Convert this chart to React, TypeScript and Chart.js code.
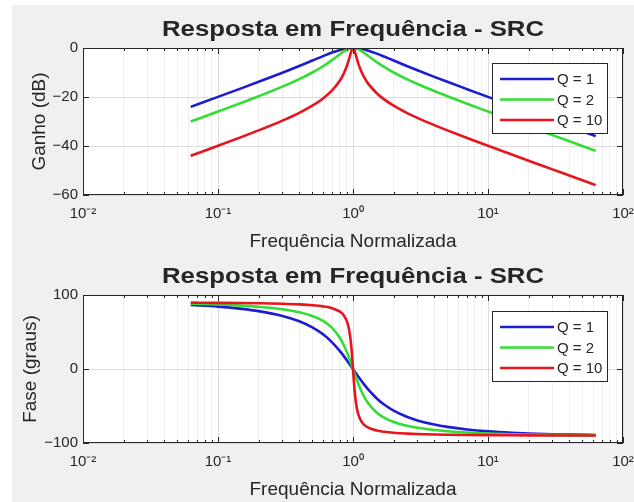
import { useEffect, useRef } from 'react';
import { Chart, registerables } from 'chart.js';

Chart.register(...registerables);

// ---------- data ----------
const freq = [0.0628, 0.1, 0.15, 0.2, 0.3, 0.4, 0.5, 0.6, 0.7, 0.8, 0.85, 0.9, 0.93, 0.95, 0.97, 0.98, 0.99, 1.0, 1.01, 1.02, 1.03, 1.05, 1.07, 1.1, 1.15, 1.2, 1.3, 1.5, 1.7, 2, 2.5, 3, 4, 5, 7, 10, 15, 20, 30, 45, 62.8];

const gainQ1 = [-24.02, -19.96, -16.38, -13.81, -10.09, -7.33, -5.12, -3.3, -1.85, -0.8, -0.44, -0.19, -0.09, -0.05, -0.02, -0.01, 0, 0, 0, -0.01, -0.02, -0.04, -0.08, -0.16, -0.33, -0.55, -1.08, -2.29, -3.49, -5.12, -7.33, -9.09, -11.78, -13.81, -16.81, -19.96, -23.5, -26.01, -29.54, -33.06, -35.96];
const gainQ2 = [-30.03, -25.94, -22.33, -19.69, -15.77, -12.7, -10.0, -7.44, -4.95, -2.58, -1.54, -0.71, -0.35, -0.18, -0.06, -0.03, -0.01, 0, -0.01, -0.03, -0.06, -0.16, -0.31, -0.59, -1.19, -1.87, -3.28, -5.77, -7.74, -10.0, -12.7, -14.69, -17.58, -19.69, -22.77, -25.94, -29.51, -32.02, -35.56, -39.08, -41.98];
const gainQ10 = [-44.01, -39.91, -36.28, -33.63, -29.64, -26.45, -23.54, -20.6, -17.33, -13.27, -10.67, -7.37, -4.93, -3.12, -1.37, -0.66, -0.17, 0, -0.17, -0.63, -1.3, -2.91, -4.52, -6.67, -9.48, -11.6, -14.65, -18.48, -20.96, -23.54, -26.45, -28.53, -31.48, -33.63, -36.72, -39.91, -43.48, -46.0, -49.53, -53.06, -55.96];

const phaseQ1 = [86.39, 84.23, 81.28, 78.23, 71.76, 64.54, 56.31, 46.85, 36.08, 24.23, 18.08, 11.92, 8.27, 5.86, 3.49, 2.31, 1.15, 0, -1.14, -2.27, -3.38, -5.57, -7.71, -10.81, -15.66, -20.14, -27.96, -39.81, -48.03, -56.31, -64.54, -69.44, -75.07, -78.23, -81.7, -84.23, -86.17, -87.13, -88.09, -88.73, -89.09];
const phaseQ2 = [88.19, 87.11, 85.61, 84.05, 80.64, 76.61, 71.57, 64.89, 55.54, 41.99, 33.14, 22.89, 16.2, 11.6, 6.95, 4.62, 2.3, 0, -2.28, -4.53, -6.74, -11.05, -15.15, -20.9, -29.29, -36.25, -46.71, -59.04, -65.78, -71.57, -76.61, -79.38, -82.41, -84.05, -85.83, -87.11, -88.08, -88.56, -89.04, -89.36, -89.54];
const phaseQ10 = [89.64, 89.42, 89.12, 88.81, 88.11, 87.27, 86.19, 84.64, 82.19, 77.47, 72.97, 64.65, 55.46, 45.74, 31.36, 22.0, 11.37, 0, -11.26, -21.61, -30.6, -44.31, -53.55, -62.35, -70.38, -74.74, -79.33, -83.16, -84.86, -86.19, -87.27, -87.85, -88.47, -88.81, -89.16, -89.42, -89.62, -89.71, -89.81, -89.87, -89.91];

const seriesLabels = ['Q = 1', 'Q = 2', 'Q = 10'];
const seriesColors = ['#1c1cd0', '#33dd33', '#e8141e'];

const xMajorTicks = [0.01, 0.1, 1, 10, 100];
const xTickLabels = ['10\u207B\u00B2', '10\u207B\u00B9', '10\u2070', '10\u00B9', '10\u00B2'];
const minorMultipliers = [2, 3, 4, 5, 6, 7, 8, 9];

const gainTicks = [-60, -40, -20, 0];
const phaseTicks = [-100, 0, 100];

const chartTitle = 'Resposta em Frequência - SRC';
const xTitle = 'Frequência Normalizada';
const gainTitle = 'Ganho (dB)';
const phaseTitle = 'Fase (graus)';

// ---------- styling ----------
const FONT = '"Liberation Sans", Arial, Helvetica, sans-serif';
const INK = '#262626';
const FIG_BG = '#f0f0f0';

const allXTicks: number[] = [];
xMajorTicks.forEach((m, i) => {
  allXTicks.push(m);
  if (i < xMajorTicks.length - 1) minorMultipliers.forEach((k) => allXTicks.push(+(m * k).toPrecision(6)));
});

const isMajor = (v: number) => xMajorTicks.some((m) => Math.abs(m - v) / m < 1e-9);

const matlabPlugin = {
  id: 'matlabAxes',
  beforeDraw(chart: any) {
    const { ctx, chartArea: a } = chart;
    ctx.save();
    ctx.fillStyle = '#ffffff';
    ctx.fillRect(a.left, a.top, a.right - a.left, a.bottom - a.top);
    ctx.restore();
  },
  afterDatasetsDraw(chart: any, _args: any, opts: any) {
    const { ctx, chartArea: a, scales } = chart;
    const xs = scales.x;
    const ys = scales.y;
    ctx.save();
    ctx.strokeStyle = INK;
    ctx.lineWidth = 1;
    ctx.beginPath();
    xs.ticks.forEach((t: any) => {
      const px = Math.round(xs.getPixelForValue(t.value)) + 0.5;
      const len = isMajor(t.value) ? 6 : 3;
      ctx.moveTo(px, a.bottom);
      ctx.lineTo(px, a.bottom - len);
      ctx.moveTo(px, a.top);
      ctx.lineTo(px, a.top + len);
    });
    ys.ticks.forEach((t: any) => {
      const py = Math.round(ys.getPixelForValue(t.value)) + 0.5;
      ctx.moveTo(a.left, py);
      ctx.lineTo(a.left + 6, py);
      ctx.moveTo(a.right, py);
      ctx.lineTo(a.right - 6, py);
    });
    ctx.stroke();
    ctx.strokeRect(a.left + 0.5, a.top + 0.5, a.right - a.left - 1, a.bottom - a.top - 1);

    // legend
    const lg = opts.legend;
    const bx = Math.round(a.right - lg.inset - lg.width);
    const by = Math.round(a.top + lg.top);
    ctx.fillStyle = '#ffffff';
    ctx.fillRect(bx, by, lg.width, lg.height);
    ctx.strokeStyle = INK;
    ctx.lineWidth = 1;
    ctx.strokeRect(bx + 0.5, by + 0.5, lg.width, lg.height);
    ctx.font = `15px ${FONT}`;
    ctx.textBaseline = 'middle';
    ctx.textAlign = 'left';
    chart.data.datasets.forEach((ds: any, i: number) => {
      const ry = by + lg.first + i * lg.gap;
      ctx.strokeStyle = ds.borderColor;
      ctx.lineWidth = ds.borderWidth;
      ctx.beginPath();
      ctx.moveTo(bx + 8, ry);
      ctx.lineTo(bx + 62, ry);
      ctx.stroke();
      ctx.fillStyle = INK;
      ctx.fillText(ds.label, bx + 65, ry + 1);
    });
    ctx.restore();
  },
  afterDraw(chart: any, _args: any, opts: any) {
    const { ctx, chartArea: a } = chart;
    const cx = (a.left + a.right) / 2;
    ctx.save();
    ctx.fillStyle = INK;
    // title (stretched horizontally as in the reference)
    ctx.font = `bold 22px ${FONT}`;
    ctx.textAlign = 'center';
    ctx.textBaseline = 'alphabetic';
    const w = ctx.measureText(opts.title).width;
    const sx = opts.titleWidth / w;
    ctx.save();
    ctx.translate(cx, a.top - 12);
    ctx.scale(sx, 1);
    ctx.fillText(opts.title, 0, 0);
    ctx.restore();
    // x label
    ctx.font = `19px ${FONT}`;
    ctx.fillText(opts.xlabel, cx, a.bottom + 52);
    // y label
    ctx.save();
    ctx.translate(opts.ylabelX, (a.top + a.bottom) / 2);
    ctx.rotate(-Math.PI / 2);
    ctx.textBaseline = 'middle';
    ctx.fillText(opts.ylabel, 0, 0);
    ctx.restore();
    ctx.restore();
  },
};

function makeConfig(values: number[][], yMin: number, yMax: number, yTicks: number[], canvasH: number, areaTop: number, areaBottom: number, ylabel: string, ylabelX: number, legendTop: number) {
  return {
    type: 'line',
    data: {
      datasets: values.map((vals, i) => ({
        label: seriesLabels[i],
        data: freq.map((f, j) => ({ x: f, y: vals[j] })),
        borderColor: seriesColors[i],
        backgroundColor: seriesColors[i],
        borderWidth: 2.6,
        pointRadius: 0,
        cubicInterpolationMode: 'monotone',
        order: values.length - i,
        fill: false,
      })),
    },
    options: {
      responsive: false,
      animation: false,
      events: [],
      layout: { padding: { top: areaTop, right: 11, left: 0, bottom: 0 } },
      plugins: {
        legend: { display: false },
        title: { display: false },
        tooltip: { enabled: false },
        matlabAxes: {
          title: chartTitle,
          titleWidth: 382,
          xlabel: xTitle,
          ylabel,
          ylabelX,
          legend: { inset: 16, top: legendTop, width: 115, height: 70, first: 16, gap: 20.5 },
        },
      },
      scales: {
        x: {
          type: 'logarithmic',
          min: 0.01,
          max: 100,
          afterBuildTicks: (s: any) => {
            s.ticks = allXTicks.map((v) => ({ value: v }));
          },
          afterFit: (s: any) => {
            s.height = canvasH - areaBottom;
            s.paddingLeft = 0;
            s.paddingRight = 0;
          },
          border: { display: false },
          grid: {
            drawTicks: false,
            color: (c: any) => (c.tick && isMajor(c.tick.value) ? '#dcdcdc' : '#efefef'),
            lineWidth: 1,
          },
          ticks: {
            autoSkip: false,
            maxRotation: 0,
            padding: 10,
            color: INK,
            font: { family: FONT, size: 15 },
            callback: (v: any) => {
              const i = xMajorTicks.findIndex((m) => Math.abs(m - v) / m < 1e-9);
              return i >= 0 ? xTickLabels[i] : '';
            },
          },
        },
        y: {
          type: 'linear',
          min: yMin,
          max: yMax,
          afterBuildTicks: (s: any) => {
            s.ticks = yTicks.map((v) => ({ value: v }));
          },
          afterFit: (s: any) => {
            s.width = 71;
            s.paddingTop = 0;
            s.paddingBottom = 0;
          },
          border: { display: false },
          grid: { drawTicks: false, color: '#dcdcdc', lineWidth: 1 },
          ticks: {
            padding: 5,
            color: INK,
            font: { family: FONT, size: 15 },
            callback: (v: any) => (v < 0 ? '\u2212' + Math.abs(v) : String(v)),
          },
        },
      },
    },
    plugins: [matlabPlugin],
  };
}

export default function App() {
  const topRef = useRef<HTMLCanvasElement>(null);
  const botRef = useRef<HTMLCanvasElement>(null);

  useEffect(() => {
    const c1 = new Chart(
      topRef.current as any,
      makeConfig([gainQ1, gainQ2, gainQ10], -60, 0, gainTicks, 250, 43, 190, gainTitle, 28, 15) as any
    );
    const c2 = new Chart(
      botRef.current as any,
      makeConfig([phaseQ1, phaseQ2, phaseQ10], -100, 100, phaseTicks, 247, 40, 188, phaseTitle, 19, 16) as any
    );
    return () => {
      c1.destroy();
      c2.destroy();
    };
  }, []);

  return (
    <div style={{ position: 'fixed', left: 0, top: 0, width: 634, height: 502, background: '#ffffff', overflow: 'hidden' }}>
      <div style={{ position: 'absolute', left: 12, top: 5, width: 622, height: 497, background: FIG_BG }} />
      <canvas ref={topRef} width={622} height={250} style={{ position: 'absolute', left: 12, top: 5, width: 622, height: 250, display: 'block' }} />
      <canvas ref={botRef} width={622} height={247} style={{ position: 'absolute', left: 12, top: 255, width: 622, height: 247, display: 'block' }} />
    </div>
  );
}
